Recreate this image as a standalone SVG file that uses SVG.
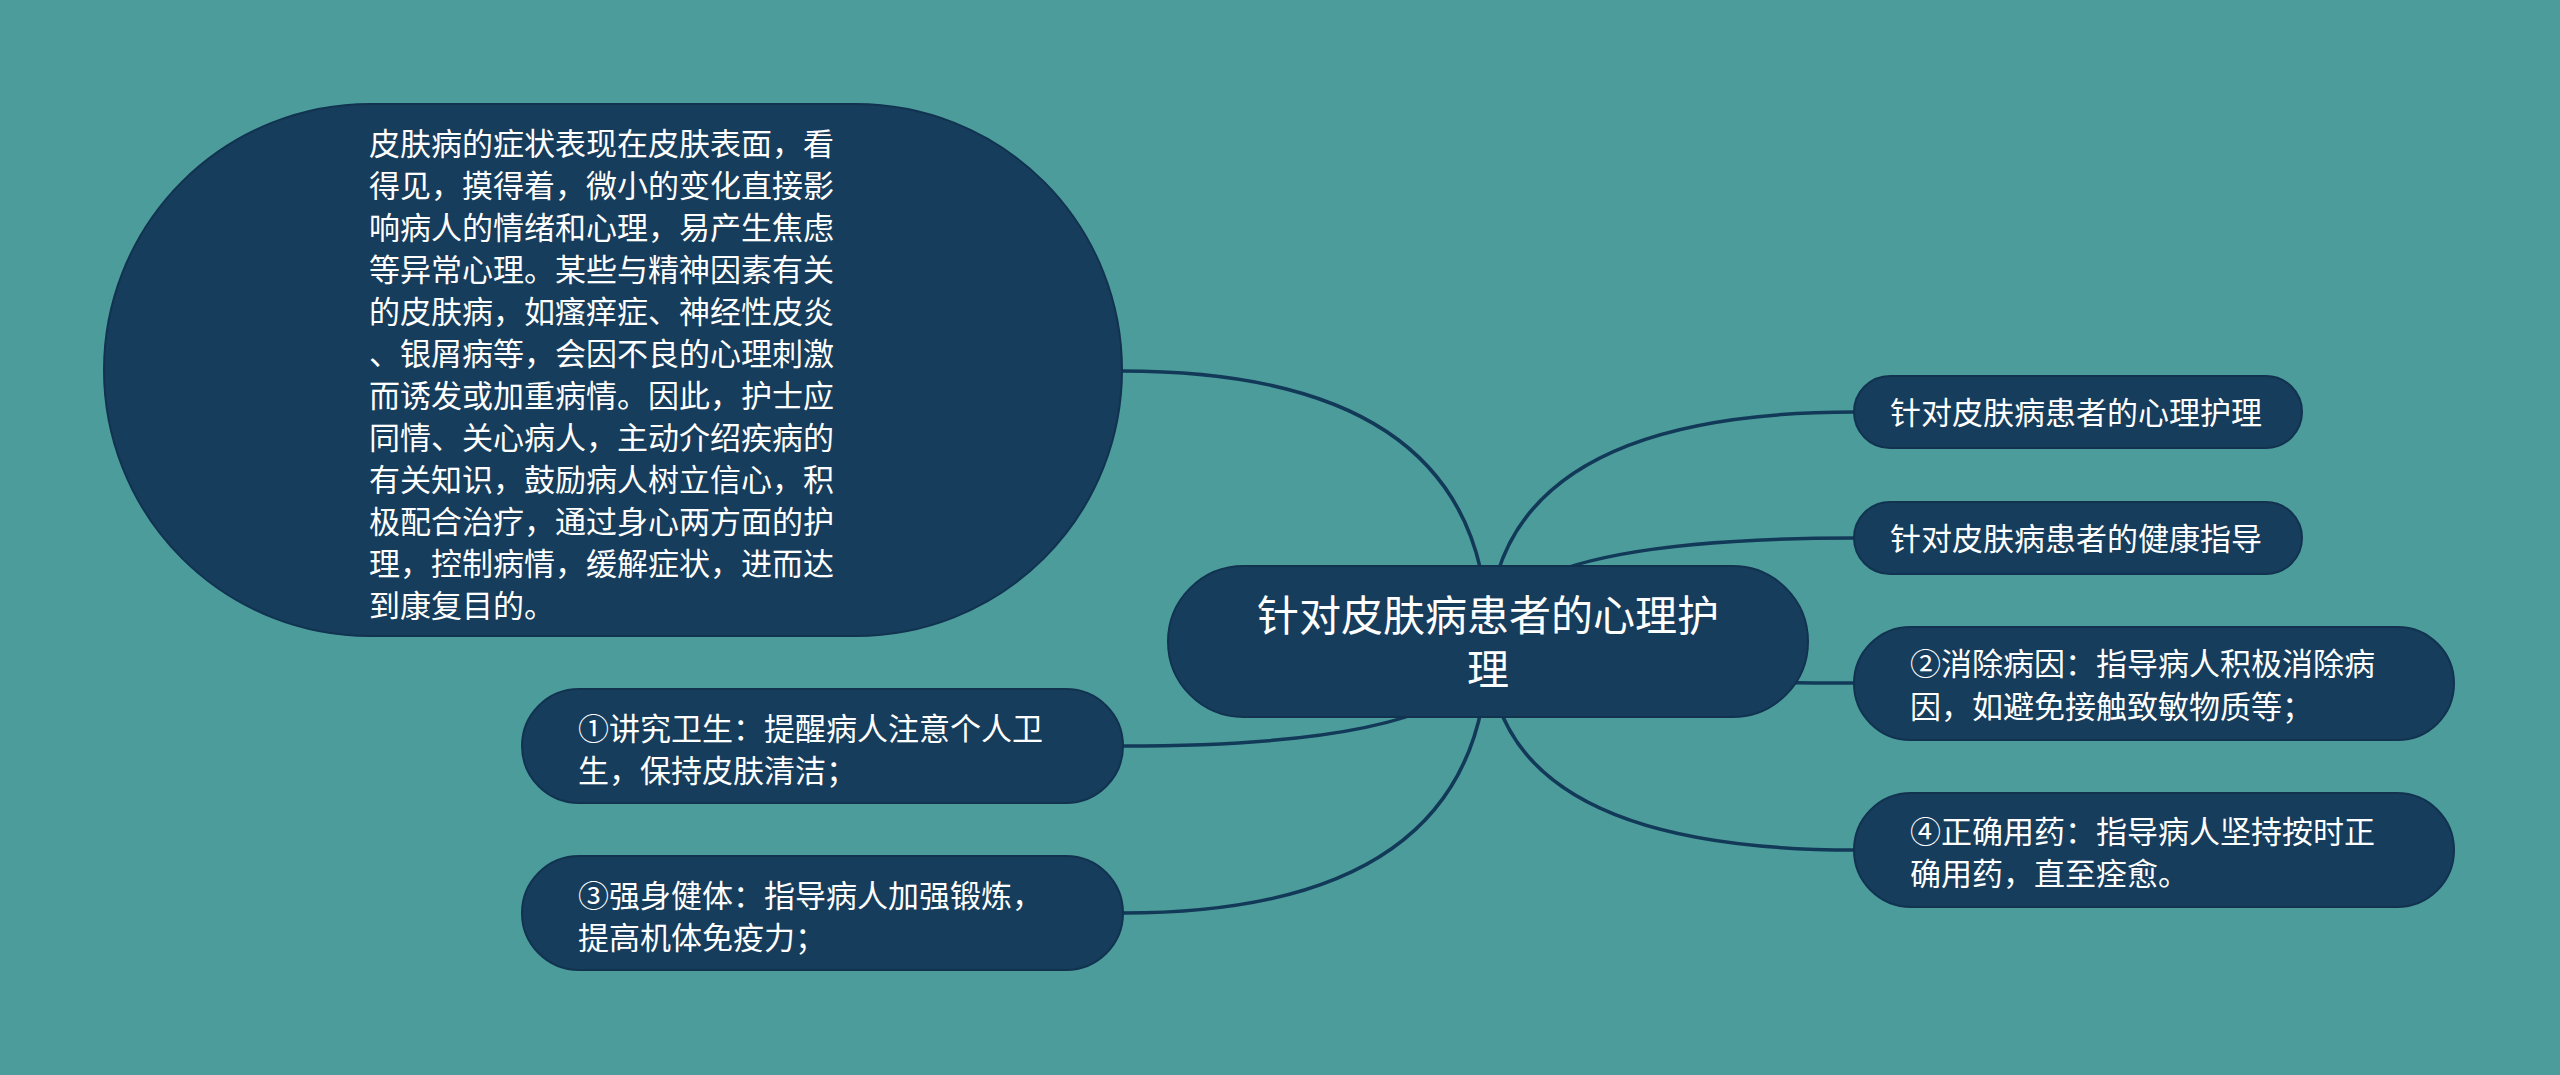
<svg xmlns="http://www.w3.org/2000/svg" width="2560" height="1075" viewBox="0 0 2560 1075">
  <style>
    .node { fill: #173d5c; stroke: #113350; stroke-width: 2; }
    .link { fill: none; stroke: #123a58; stroke-width: 3.5; stroke-linecap: round; }
    .t { fill: #ffffff; font-family: "Microsoft YaHei", "Noto Sans CJK SC", "Noto Sans", sans-serif; font-size: 31px; }
    .tc { fill: #ffffff; font-family: "Microsoft YaHei", "Noto Sans CJK SC", "Noto Sans", sans-serif; font-size: 42px; text-anchor: middle; }
  </style>
  <rect x="0" y="0" width="2560" height="1075" fill="#4d9c9c"/>

  <g id="connectors">
    <path class="link" d="M 1488 641 Q 1488 371 1122 371"/>
    <path class="link" d="M 1488 641 Q 1488 746 1123 746"/>
    <path class="link" d="M 1488 641 Q 1488 913 1123 913"/>
    <path class="link" d="M 1488 641 Q 1488 412 1855 412"/>
    <path class="link" d="M 1488 641 Q 1488 538 1855 538"/>
    <path class="link" d="M 1488 641 Q 1488 683 1855 683"/>
    <path class="link" d="M 1488 641 Q 1488 850 1855 850"/>
  </g>

  <g id="center">
    <rect class="node" x="1168" y="566" width="640" height="151" rx="75.5"/>
    <text class="tc"><tspan x="1488" y="631">针对皮肤病患者的心理护</tspan><tspan x="1488" y="685">理</tspan></text>
  </g>

  <g id="n-desc">
    <rect class="node" x="104" y="104" width="1018" height="532" rx="266"/>
    <text class="t">
      <tspan x="369" y="155">皮肤病的症状表现在皮肤表面，看</tspan>
      <tspan x="369" y="197">得见，摸得着，微小的变化直接影</tspan>
      <tspan x="369" y="239">响病人的情绪和心理，易产生焦虑</tspan>
      <tspan x="369" y="281">等异常心理。某些与精神因素有关</tspan>
      <tspan x="369" y="323">的皮肤病，如瘙痒症、神经性皮炎</tspan>
      <tspan x="369" y="365">、银屑病等，会因不良的心理刺激</tspan>
      <tspan x="369" y="407">而诱发或加重病情。因此，护士应</tspan>
      <tspan x="369" y="449">同情、关心病人，主动介绍疾病的</tspan>
      <tspan x="369" y="491">有关知识，鼓励病人树立信心，积</tspan>
      <tspan x="369" y="533">极配合治疗，通过身心两方面的护</tspan>
      <tspan x="369" y="575">理，控制病情，缓解症状，进而达</tspan>
      <tspan x="369" y="617">到康复目的。</tspan>
    </text>
  </g>

  <g id="n-hygiene">
    <rect class="node" x="522" y="689" width="601" height="114" rx="57"/>
    <text class="t"><tspan x="578" y="740">①讲究卫生：提醒病人注意个人卫</tspan><tspan x="578" y="782">生，保持皮肤清洁；</tspan></text>
  </g>

  <g id="n-exercise">
    <rect class="node" x="522" y="856" width="601" height="114" rx="57"/>
    <text class="t"><tspan x="578" y="907">③强身健体：指导病人加强锻炼，</tspan><tspan x="578" y="949">提高机体免疫力；</tspan></text>
  </g>

  <g id="n-psych">
    <rect class="node" x="1854" y="376" width="448" height="72" rx="36"/>
    <text class="t" x="1890" y="424">针对皮肤病患者的心理护理</text>
  </g>

  <g id="n-health">
    <rect class="node" x="1854" y="502" width="448" height="72" rx="36"/>
    <text class="t" x="1890" y="550">针对皮肤病患者的健康指导</text>
  </g>

  <g id="n-cause">
    <rect class="node" x="1854" y="627" width="600" height="113" rx="56.5"/>
    <text class="t"><tspan x="1910" y="675">②消除病因：指导病人积极消除病</tspan><tspan x="1910" y="718">因，如避免接触致敏物质等；</tspan></text>
  </g>

  <g id="n-medicine">
    <rect class="node" x="1854" y="793" width="600" height="114" rx="57"/>
    <text class="t"><tspan x="1910" y="843">④正确用药：指导病人坚持按时正</tspan><tspan x="1910" y="885">确用药，直至痊愈。</tspan></text>
  </g>
</svg>
